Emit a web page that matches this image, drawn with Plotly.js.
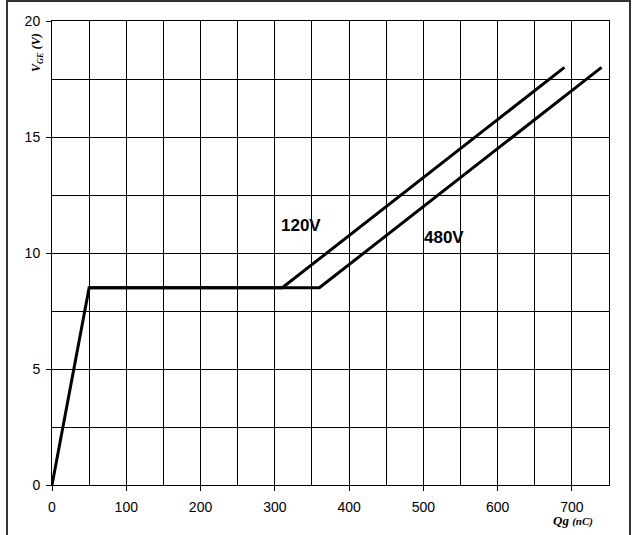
<!DOCTYPE html>
<html>
<head>
<meta charset="utf-8">
<script src="https://cdn.plot.ly/plotly-3.0.1.min.js"></script>
<style>html,body{margin:0;padding:0;background:#fff;}#chart{width:633px;height:535px;}</style>
</head>
<body>
<div id="chart"></div>
<script>
// Gate charge curves: Qg (nC) vs VGE (V)
var qg120 = [0, 50, 310, 690];
var vge120 = [0, 8.5, 8.5, 18];
var qg480 = [50, 360, 740];
var vge480 = [8.5, 8.5, 18];
var seriesLabels = ['120V', '480V'];
var labelPos = [[335, 11.2], [528, 10.65]];

var lineStyle = {color: '#000', width: 3};
var traces = [
  {x: qg120, y: vge120, mode: 'lines', line: lineStyle, name: seriesLabels[0], hoverinfo: 'none'},
  {x: qg480, y: vge480, mode: 'lines', line: lineStyle, name: seriesLabels[1], hoverinfo: 'none'}
];

var tickFont = {family: 'Liberation Sans, Arial, sans-serif', size: 14, color: '#000'};
var titleFont = {family: 'Liberation Serif, Times New Roman, serif', size: 12, color: '#000', style: 'italic', weight: 'bold'};

var layout = {
  width: 633, height: 535,
  margin: {l: 52, r: 24, t: 21, b: 50, pad: 0},
  paper_bgcolor: '#fff', plot_bgcolor: '#fff',
  showlegend: false,
  xaxis: {
    range: [0, 750], showgrid: true, gridcolor: '#000', gridwidth: 1,
    minor: {dtick: 50, tick0: 0, showgrid: true, gridcolor: '#000', gridwidth: 1},
    ticks: 'outside', ticklen: 5, tickcolor: '#000', tickwidth: 1,
    showline: true, mirror: true, linecolor: '#000', linewidth: 1,
    zeroline: false, tickfont: tickFont, fixedrange: true, ticklabelstandoff: 4,
    tickvals: [0,100,200,300,400,500,600,700]
  },
  yaxis: {
    range: [0, 20], tick0: 0, dtick: 5, showgrid: true, gridcolor: '#000', gridwidth: 1,
    minor: {dtick: 2.5, showgrid: true, gridcolor: '#000', gridwidth: 1},
    ticks: 'outside', ticklen: 5, tickcolor: '#000', tickwidth: 1,
    showline: true, mirror: true, linecolor: '#000', linewidth: 1,
    zeroline: false, tickfont: tickFont, fixedrange: true, ticklabelstandoff: 3
  },
  annotations: [
    {x: labelPos[0][0], y: labelPos[0][1], xref: 'x', yref: 'y', text: seriesLabels[0], showarrow: false,
     font: {family: 'Liberation Sans, Arial, sans-serif', size: 17, color: '#000', weight: 'bold'}},
    {x: labelPos[1][0], y: labelPos[1][1], xref: 'x', yref: 'y', text: seriesLabels[1], showarrow: false,
     font: {family: 'Liberation Sans, Arial, sans-serif', size: 17, color: '#000', weight: 'bold'}},
    {x: 37, y: 53, xref: 'paper', yref: 'paper', text: 'V<sub>GE</sub> (V)', showarrow: false, textangle: -90,
     font: titleFont},
    {x: 573, y: 520, xref: 'paper', yref: 'paper', text: 'Qg <span style="font-size:11px">(nC)</span>', showarrow: false,
     font: {family: 'Liberation Serif, Times New Roman, serif', size: 13, color: '#000', style: 'italic', weight: 'bold'}}
  ],
  shapes: []
};

// convert pixel positions for paper-anchored annotations
var pw = 633 - 52 - 24, ph = 535 - 21 - 50;
function px2x(p){ return (p - 52) / pw; }
function py2y(p){ return (535 - 50 - p) / ph; }
layout.annotations[2].x = px2x(37); layout.annotations[2].y = py2y(53);
layout.annotations[3].x = px2x(573); layout.annotations[3].y = py2y(520);
layout.annotations[2].xanchor = 'center'; layout.annotations[2].yanchor = 'middle';
layout.annotations[3].xanchor = 'center'; layout.annotations[3].yanchor = 'middle';

// outer frame
layout.shapes.push({type: 'path', xref: 'paper', yref: 'paper',
  path: 'M ' + px2x(7) + ' ' + py2y(540) + ' L ' + px2x(7) + ' ' + py2y(1) + ' L ' + px2x(630) + ' ' + py2y(1) + ' L ' + px2x(630) + ' ' + py2y(540),
  line: {color: '#333', width: 2}, layer: 'above'});

Plotly.newPlot('chart', traces, layout, {displayModeBar: false, staticPlot: true});
</script>
</body>
</html>
